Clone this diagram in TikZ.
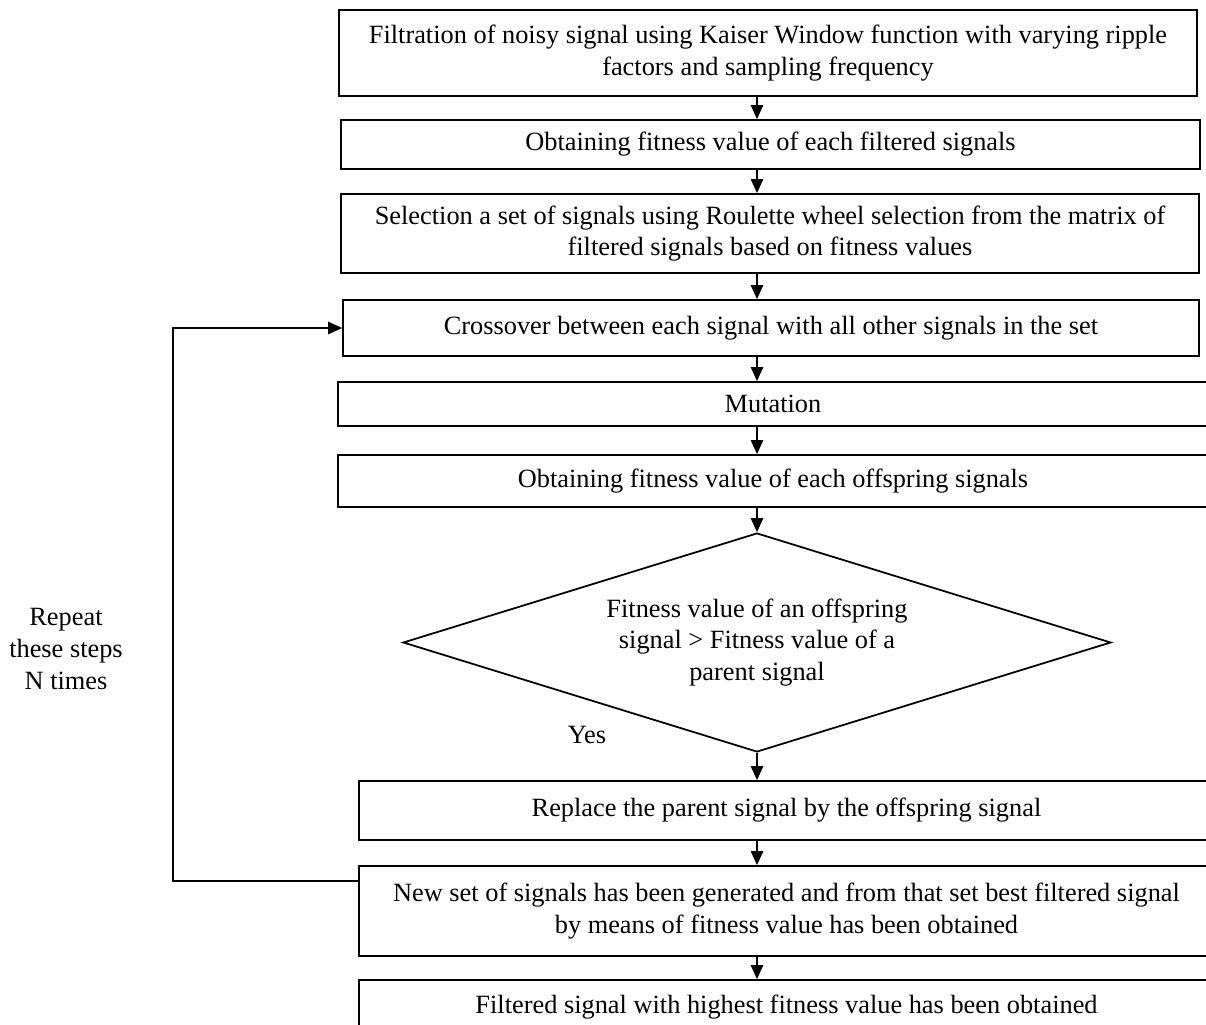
\documentclass[tikz,border=0pt]{standalone}
\usepackage{fontspec}
\setmainfont{Liberation Serif}
\usepackage{tikz}
\usetikzlibrary{arrows.meta,shapes.geometric}

\tikzset{
  stepbox/.style={draw, line width=1pt, inner sep=0pt, align=center, font=\fontsize{15}{18.1}\selectfont},
  testbox/.style={draw, diamond, line width=1pt, inner sep=0pt, align=center, font=\fontsize{15}{18.1}\selectfont},
  note/.style={align=center, font=\fontsize{15}{18.1}\selectfont},
  flow/.style={->, line width=1pt}
}

\begin{document}
\begin{tikzpicture}[x=0.02cm, y=-0.02cm, >={Triangle[length=8pt,width=7pt]}]

\useasboundingbox (0,0) rectangle (1206,1024);

% column of the arrows
\coordinate (ax) at (757,0);

% Steps
\node[stepbox, minimum width=17.16cm, minimum height=1.72cm] (filt) at (768,53)
  {Filtration of noisy signal using Kaiser Window function with varying ripple\\ factors and sampling frequency};
\node[stepbox, minimum width=17.18cm, minimum height=0.98cm] (fitf) at (770.5,144.5)
  {Obtaining fitness value of each filtered signals};
\node[stepbox, minimum width=17.16cm, minimum height=1.58cm] (sel) at (770,233.5)
  {Selection a set of signals using Roulette wheel selection from the matrix of\\ filtered signals based on fitness values};
\node[stepbox, minimum width=17.12cm, minimum height=1.12cm] (cross) at (771,328)
  {Crossover between each signal with all other signals in the set};
\node[stepbox, minimum width=17.40cm, minimum height=0.88cm] (mut) at (773,404)
  {Mutation};
\node[stepbox, minimum width=17.40cm, minimum height=1.04cm] (fito) at (773,481)
  {Obtaining fitness value of each offspring signals};

% Test
\node[testbox, minimum width=14.16cm, minimum height=4.38cm, aspect=3.23] (dec) at (757,642.5)
  {Fitness value of an offspring\\ signal > Fitness value of a\\ parent signal};
\node[note] (yes) at (587,735) {Yes};

\node[stepbox, minimum width=17.10cm, minimum height=1.18cm] (repl) at (786.5,810.5)
  {Replace the parent signal by the offspring signal};
\node[stepbox, minimum width=17.10cm, minimum height=1.80cm] (news) at (786.5,911)
  {New set of signals has been generated and from that set best filtered signal\\ by means of fitness value has been obtained};
\node[stepbox, minimum width=17.10cm, minimum height=1.08cm] (best) at (786.5,1007)
  {Filtered signal with highest fitness value has been obtained};

% Arrows down the column
\foreach \a/\b in {filt/fitf, fitf/sel, sel/cross, cross/mut, mut/fito, fito/dec, dec/repl, repl/news, news/best}
  \draw[flow] (\a.south -| ax) -- (\b.north -| ax);

% Loop back
\node[note] (rep) at (66,649) {Repeat\\ these steps\\ N times};
\coordinate (loop) at (173,881);
\draw[flow] (news.west |- loop) -- (loop) |- (cross.west);

\end{tikzpicture}
\end{document}
